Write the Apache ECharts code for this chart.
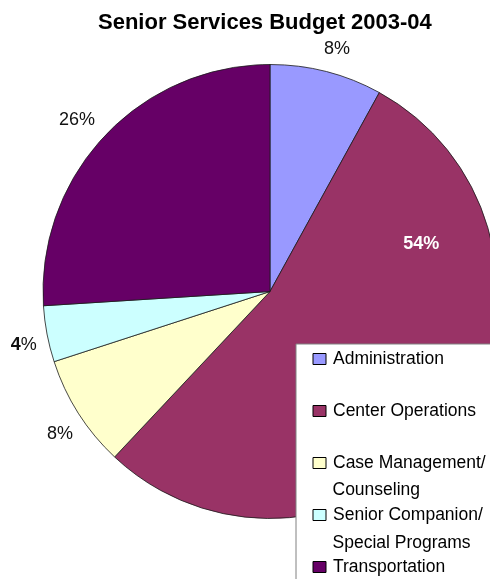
<!DOCTYPE html>
<html>
<head>
<meta charset="utf-8">
<script src="https://cdn.jsdelivr.net/npm/echarts@6/dist/echarts.min.js"></script>
<style>
html,body{margin:0;padding:0;background:#fff;}
#chart{width:490px;height:579px;}
</style>
</head>
<body>
<div id="chart"></div>
<script>
const titleText = 'Senior Services Budget 2003-04';
const categories = ['Administration', 'Center Operations', 'Case Management/\nCounseling', 'Senior Companion/\nSpecial Programs', 'Transportation'];
const values = [8, 54, 8, 4, 26];
const colors = ['#9999FF', '#993366', '#FFFFCC', '#CCFFFF', '#660066'];

const FONT = 'Liberation Sans, Arial, sans-serif';

// per-slice label placement (distance beyond rim and pull towards text)
const labelCfg = [
  { len: 23.4, dist: -8.3 },
  { inside: true },
  { len: 39.5, dist: -28 },
  { len: 61.2, dist: -49.8, boldDigits: true },
  { len: 24, dist: -8 }
];

const data = categories.map((name, i) => {
  const c = labelCfg[i];
  const item = { name, value: values[i], itemStyle: { color: colors[i] } };
  if (c.inside) {
    item.label = { position: 'inside', color: '#fff', fontWeight: 'bold', fontSize: 18, fontFamily: FONT };
  } else {
    item.label = { position: 'outside', distanceToLabelLine: c.dist, color: '#111', fontSize: 18, fontFamily: FONT };
    item.labelLine = { show: false, length: c.len, length2: 0 };
    if (c.boldDigits) {
      item.label.formatter = p => '{b|' + p.value + '}{n|%}';
      item.label.rich = {
        b: { fontWeight: 'bold', fontSize: 18, fontFamily: FONT, color: '#111' },
        n: { fontSize: 18, fontFamily: FONT, color: '#111' }
      };
    }
  }
  return item;
});

const chart = echarts.init(document.getElementById('chart'), null, { renderer: 'canvas' });

const secondLines = categories.filter(n => n.indexOf('\n') >= 0).map(n => n.split('\n')[1]);

chart.setOption({
  animation: false,
  backgroundColor: '#fff',
  title: {
    text: titleText,
    left: 98,
    top: 12,
    padding: 0,
    textStyle: { fontFamily: FONT, fontSize: 22, fontWeight: 'bold', color: '#000' }
  },
  legend: {
    type: 'plain',
    orient: 'vertical',
    left: 296,
    top: 344,
    height: 1000,
    padding: [2, 200, 100, 16.5],
    backgroundColor: '#fff',
    borderColor: '#808080',
    borderWidth: 1,
    itemGap: 26,
    itemWidth: 13,
    itemHeight: 11,
    icon: 'rect',
    itemStyle: { borderColor: '#000', borderWidth: 1 },
    formatter: name => name.split('\n')[0],
    textStyle: { fontFamily: FONT, fontSize: 17.5, lineHeight: 26, color: '#000', padding: [0, 0, 0, 2] },
    data: categories
  },
  graphic: [
    { type: 'text', left: 332.5, top: 481, z: 100, style: { text: secondLines[0], fontFamily: FONT, fontSize: 17.5, fill: '#000' } },
    { type: 'text', left: 332.5, top: 534, z: 100, style: { text: secondLines[1], fontFamily: FONT, fontSize: 17.5, fill: '#000' } }
  ],
  series: [{
    type: 'pie',
    center: [270, 291.5],
    radius: 227,
    startAngle: 90,
    clockwise: true,
    avoidLabelOverlap: false,
    silent: true,
    itemStyle: { borderColor: '#1a1a1a', borderWidth: 0.8 },
    emphasis: { disabled: true },
    label: { formatter: p => p.value + '%' },
    labelLayout: p => (p.dataIndex === 1 ? { dx: 57, dy: -115.5 } : {}),
    data
  }]
});
</script>
</body>
</html>
